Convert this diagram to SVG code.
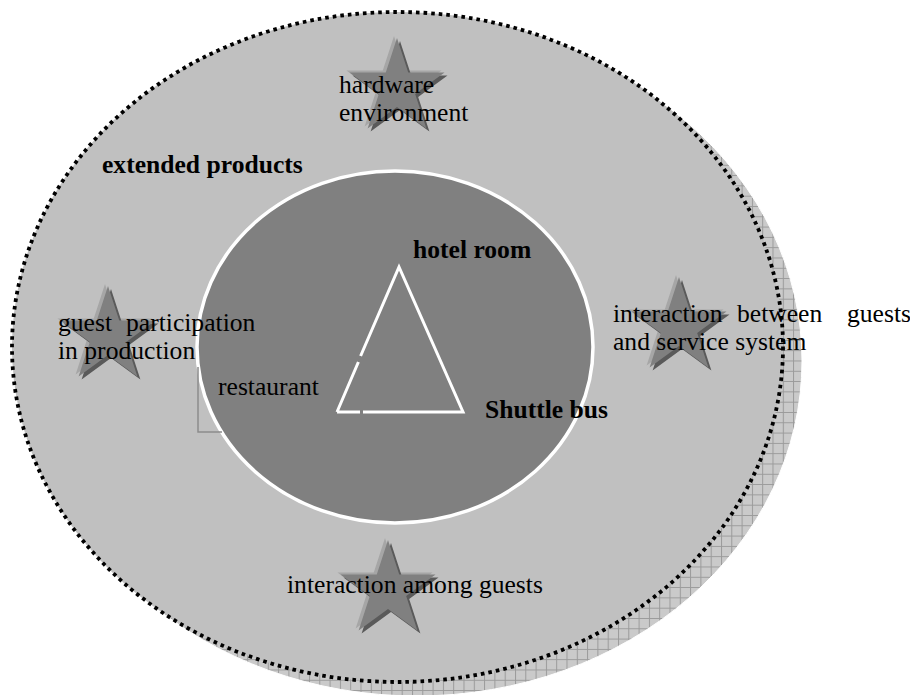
<svg xmlns="http://www.w3.org/2000/svg" width="910" height="695" viewBox="0 0 910 695">
<defs>
<pattern id="hatch" width="10.3" height="10.3" patternUnits="userSpaceOnUse">
<rect width="10.3" height="10.3" fill="#cacaca"/>
<path d="M0,0.5 H10.3 M0.5,0 V10.3" stroke="#9a9a9a" stroke-width="1" fill="none"/>
</pattern>
<path id="star" d="M0,-50 L11.23,-15.45 L47.55,-15.45 L18.17,5.9 L29.39,40.45 L0,19.1 L-29.39,40.45 L-18.17,5.9 L-47.55,-15.45 L-11.23,-15.45 Z"/>
</defs>
<style>
.t{font-family:"Liberation Serif","Times New Roman",serif;font-size:25.6px;fill:#000}
.b{font-weight:bold}
.starL{fill:#a6a6a6}
.starD{fill:#5a5a5a}
.starM{fill:#808080}
</style>
<rect width="910" height="695" fill="#ffffff"/>
<g id="extended-products">
<ellipse cx="416.5" cy="361" rx="385.5" ry="335" fill="url(#hatch)" stroke="#ffffff" stroke-width="1"/>
<ellipse cx="397.5" cy="347" rx="385.5" ry="335" fill="#c0c0c0" stroke="#000" stroke-width="3.8" stroke-dasharray="3.6 4"/>
<text class="t b" x="102" y="173">extended products</text>
</g>
<g id="core">
<ellipse cx="395" cy="347" rx="198" ry="176" fill="#808080" stroke="#ffffff" stroke-width="3.5"/>
</g>
<g id="triangle" stroke="#ffffff" stroke-width="3" fill="none" stroke-linecap="butt">
<path d="M337,412 L358.4,362 M360.6,356 L399,267 L463,412 L363,412 M360,412 L337,412"/>
</g>
<g id="hotel-room"><text class="t b" x="413" y="258">hotel room</text></g>
<g id="shuttle-bus"><text class="t b" x="485" y="418">Shuttle bus</text></g>
<g id="restaurant"><text class="t" x="218" y="395">restaurant</text></g>
<g id="hardware-environment">
<use href="#star" class="starL" transform="translate(394,86)"/>
<use href="#star" class="starD" transform="translate(400,91)"/>
<use href="#star" class="starM" transform="translate(397,88)"/>
<text class="t" x="339" y="92.5">hardware</text>
<text class="t" x="339" y="121">environment</text>
</g>
<g id="guest-participation">
<use href="#star" class="starL" transform="translate(105,334)"/>
<use href="#star" class="starD" transform="translate(111,339)"/>
<use href="#star" class="starM" transform="translate(108,336)"/>
<text class="t" y="331"><tspan x="58">guest</tspan><tspan x="126">participation</tspan></text>
<text class="t" x="58" y="359">in production</text>
</g>
<g id="interaction-between">
<use href="#star" class="starL" transform="translate(676,325)"/>
<use href="#star" class="starD" transform="translate(682,330)"/>
<use href="#star" class="starM" transform="translate(679,327)"/>
<text class="t" y="322"><tspan x="613">interaction</tspan><tspan x="737">between</tspan><tspan x="847">guests</tspan></text>
<text class="t" x="613" y="350">and service system</text>
</g>
<g id="interaction-among">
<use href="#star" class="starL" transform="translate(385,588)"/>
<use href="#star" class="starD" transform="translate(391,593)"/>
<use href="#star" class="starM" transform="translate(388,590)"/>
<text class="t" x="287" y="593">interaction among guests</text>
</g>
<g id="connectors">
<path d="M198,367 V432 H222" fill="none" stroke="#8c8c8c" stroke-width="1.5"/>
</g>
</svg>
